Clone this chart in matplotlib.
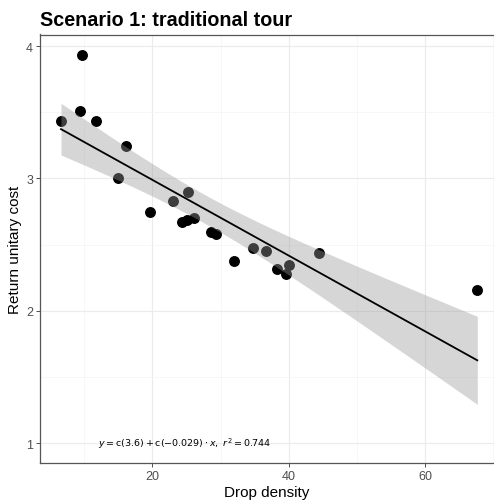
import numpy as np
import matplotlib
matplotlib.use("Agg")
import matplotlib.pyplot as plt

# ---- data ----
drop_density = [6.61, 9.65, 9.40, 11.70, 16.14, 14.97, 19.66, 23.08, 25.19, 24.40,
                25.04, 26.16, 28.56, 29.34, 31.98, 34.72, 36.67, 38.33, 39.56, 40.09,
                44.49, 67.65]
return_cost = [3.433, 3.934, 3.507, 3.431, 3.244, 3.002, 2.743, 2.831, 2.894, 2.672,
               2.687, 2.700, 2.592, 2.577, 2.378, 2.471, 2.449, 2.315, 2.277, 2.347,
               2.433, 2.158]
x_ticks = [20, 40, 60]
y_ticks = [1, 2, 3, 4]
title = "Scenario 1: traditional tour"
xlabel = "Drop density"
ylabel = "Return unitary cost"
eq_label = r"$y = \mathrm{c(3.6)} + \mathrm{c(-0.029)} \cdot x,\ r^2 = 0.744$"

plt.rcParams['font.family'] = ['Liberation Sans', 'DejaVu Sans']

x = np.array(drop_density)
y = np.array(return_cost)
n = len(x)

# linear fit + 95% confidence band
slope, intercept = np.polyfit(x, y, 1)
resid = y - (intercept + slope * x)
s = np.sqrt(np.sum(resid ** 2) / (n - 2))
t_val = 2.086  # t(0.975, df=20)
xs = np.linspace(x.min(), x.max(), 80)
ys = intercept + slope * xs
se = s * np.sqrt(1.0 / n + (xs - x.mean()) ** 2 / np.sum((x - x.mean()) ** 2))

fig = plt.figure(figsize=(4.94, 5.02), dpi=100)
W, H = 494, 502
ax = fig.add_axes([40 / W, (H - 464) / H, (494 - 40) / W, (464 - 35.5) / H])

ax.scatter(x, y, s=62, color='black', zorder=3, linewidths=0)
ax.fill_between(xs, ys - t_val * se, ys + t_val * se, color='#999999', alpha=0.4,
                linewidth=0, zorder=4)
ax.plot(xs, ys, color='black', lw=1.3, zorder=5)

ax.text(12.0, 1.0, eq_label, fontsize=6.8, ha='left', va='center', zorder=6)

ax.set_xlim(3.53, 70.1)
ax.set_ylim(0.849, 4.087)
ax.set_xticks(x_ticks)
ax.set_yticks(y_ticks)
ax.set_xticks([10, 30, 50, 70], minor=True)
ax.set_yticks([1.5, 2.5, 3.5], minor=True)
ax.grid(which='major', color='#ebebeb', lw=0.8, zorder=0)
ax.grid(which='minor', color='#f4f4f4', lw=0.5, zorder=0)
ax.set_axisbelow(True)

ax.tick_params(which='major', length=3, width=0.6, color='#333333',
               labelcolor='#4d4d4d', labelsize=9, pad=2)
ax.tick_params(which='minor', length=0)
for side in ['left', 'bottom', 'top']:
    ax.spines[side].set_color('#555555')
    ax.spines[side].set_linewidth(0.9)
ax.spines['right'].set_visible(False)

ax.set_xlabel(xlabel, fontsize=11, labelpad=2)
ax.set_ylabel(ylabel, fontsize=11, labelpad=3)
ax.set_title(title, loc='left', fontsize=14.2, fontweight='bold', pad=7)

fig.savefig("out.png", dpi=100)
